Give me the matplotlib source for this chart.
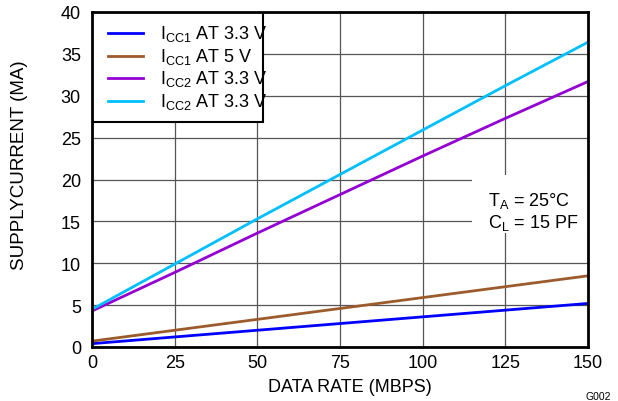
import matplotlib.pyplot as plt
from matplotlib.patches import Rectangle

plt.rcParams['font.family'] = ['Liberation Sans', 'DejaVu Sans']

# data
rate = [0, 25, 50, 75, 100, 125, 150]
icc1_33 = [0.4, 1.2, 2.0, 2.8, 3.6, 4.4, 5.2]
icc1_5 = [0.7, 2.0, 3.3, 4.6, 5.9, 7.2, 8.5]
icc2_33 = [4.3, 8.9, 13.6, 18.2, 22.8, 27.3, 31.7]
icc2_33b = [4.5, 9.9, 15.3, 20.6, 25.9, 31.2, 36.4]

labels = ['$\\mathregular{I_{CC1}}$ AT 3.3 V', '$\\mathregular{I_{CC1}}$ AT 5 V',
          '$\\mathregular{I_{CC2}}$ AT 3.3 V', '$\\mathregular{I_{CC2}}$ AT 3.3 V']
colors = ['#0000ff', '#9c5b2c', '#9400d3', '#00bfff']
series = [icc1_33, icc1_5, icc2_33, icc2_33b]

fs = 13

fig = plt.figure(figsize=(6.18, 4.02), dpi=100)
ax = fig.add_axes([92/618, 1-348/402, 496/618, 335/402])

for s, c in zip(series, colors):
    ax.plot(rate, s, color=c, lw=2, zorder=3)

ax.set_xlim(0, 150)
ax.set_ylim(0, 40)
ax.set_xticks(range(0, 151, 25))
ax.set_yticks(range(0, 41, 5))
ax.grid(True, color='#555555', lw=0.9)
ax.tick_params(length=0, labelsize=fs)
ax.tick_params(axis='y', pad=8)
ax.tick_params(axis='x', pad=5)
for sp in ax.spines.values():
    sp.set_linewidth(2)
    sp.set_zorder(6)
ax.set_xlabel('DATA RATE (MBPS)', fontsize=fs, va='center', ha='center')
ax.xaxis.set_label_coords((350-92)/496, (348-388)/335)
ax.set_ylabel('SUPPLYCURRENT (MA)', fontsize=13.5, va='center', ha='center')
ax.yaxis.set_label_coords((20-92)/496, (348-165)/335)

# legend box, text clipped at its right edge like the original
box = Rectangle((0, 0.672), 0.345, 0.328, transform=ax.transAxes,
                facecolor='white', edgecolor='black', lw=1.5, zorder=4)
ax.add_patch(box)
rows = [34, 57, 79, 102]
for yp, c, lab in zip(rows, colors, labels):
    yf = (348 - yp) / 335
    ax.plot([16/496, 51/496], [yf, yf], transform=ax.transAxes, color=c, lw=2, zorder=5)
    t = ax.text(68/496, yf, lab, transform=ax.transAxes, fontsize=fs,
                va='center', ha='left', zorder=5)
    t.set_clip_path(box)

# conditions box
ax.add_patch(Rectangle((380/496, (348-234)/335), 116/496, 58/335, transform=ax.transAxes,
                       facecolor='white', edgecolor='none', zorder=2))
ax.text(396/496, (348-201)/335, '$\\mathregular{T_A}$ = 25°C', transform=ax.transAxes,
        fontsize=fs, va='center', zorder=5)
ax.text(396/496, (348-223)/335, '$\\mathregular{C_L}$ = 15 PF', transform=ax.transAxes,
        fontsize=fs, va='center', zorder=5)

fig.text(598/618, 1-397/402, 'G002', fontsize=7.5, ha='center', va='center')

fig.savefig('out.png', dpi=100)
